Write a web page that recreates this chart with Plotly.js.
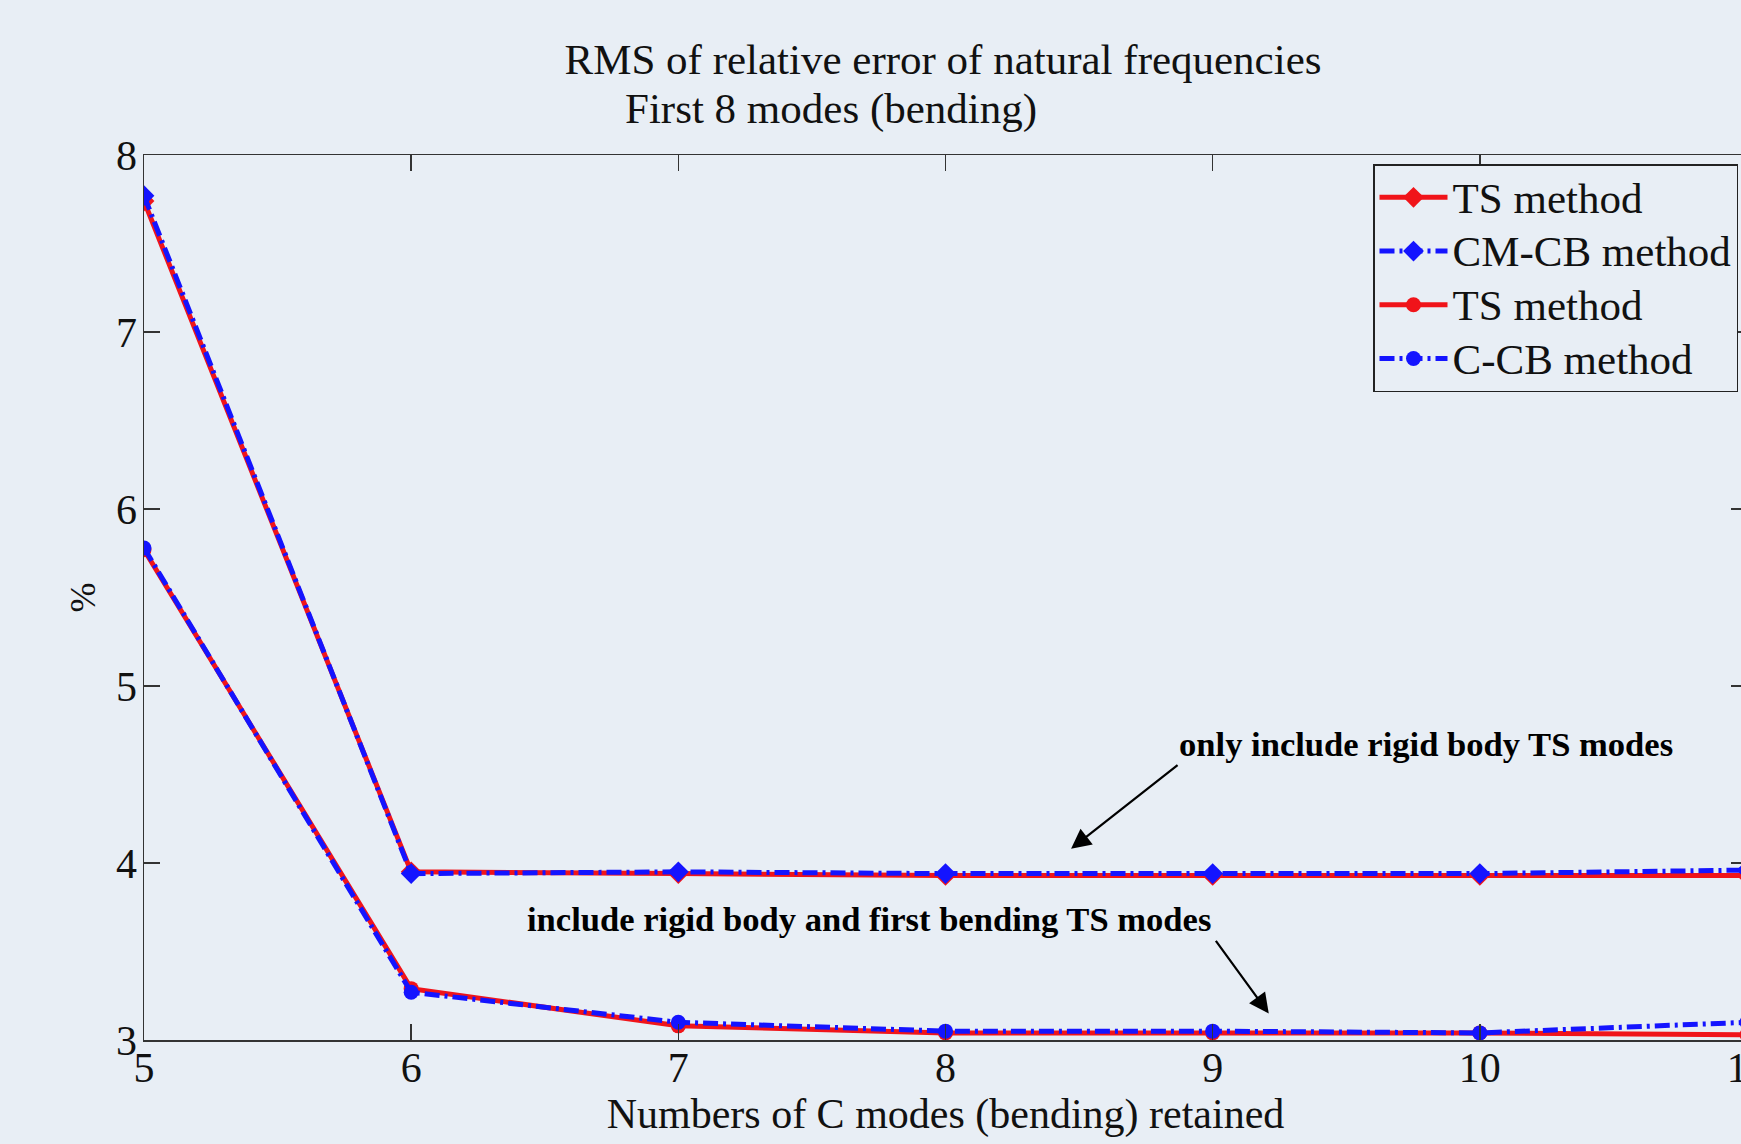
<!DOCTYPE html>
<html>
<head>
<meta charset="utf-8">
<script src="https://cdn.plot.ly/plotly-3.0.1.min.js"></script>
<style>
html, body { margin: 0; padding: 0; overflow: hidden; background: #e8eef5; }
#chart { width: 1747px; height: 1144px; }
</style>
</head>
<body>
<div id="chart"></div>
<script>
// Data
const modesRetained = [5, 6, 7, 8, 9, 10, 11];
const tsRigidOnly   = [7.74, 3.95, 3.94, 3.93, 3.93, 3.93, 3.93];
const cmcbRigidOnly = [7.77, 3.94, 3.95, 3.94, 3.94, 3.94, 3.96];
const tsRigidBend   = [5.77, 3.29, 3.08, 3.04, 3.04, 3.04, 3.03];
const ccbRigidBend  = [5.78, 3.27, 3.10, 3.05, 3.05, 3.04, 3.10];
const seriesNames = ['TS method', 'CM-CB method', 'TS method', 'C-CB method'];
const xTicks = [5, 6, 7, 8, 9, 10, 11];
const yTicks = [3, 4, 5, 6, 7, 8];

const FONT = 'Liberation Serif, "Times New Roman", serif';
const RED = '#f0141a';
const BLUE = '#1414ff';
const BG = '#e8eef5';
const blueDash = '15px,5px,3px,5px';

const legendLabel = s => '<span style="font-size:43px">' + s + '</span>';

const traces = [
  {x: modesRetained, y: tsRigidOnly, name: legendLabel(seriesNames[0]), mode: 'lines+markers',
   line: {color: RED, width: 5}, marker: {symbol: 'diamond', size: 16, color: RED}},
  {x: modesRetained, y: cmcbRigidOnly, name: legendLabel(seriesNames[1]), mode: 'lines+markers',
   line: {color: BLUE, width: 5, dash: blueDash}, marker: {symbol: 'diamond', size: 16, color: BLUE}},
  {x: modesRetained, y: tsRigidBend, name: legendLabel(seriesNames[2]), mode: 'lines+markers',
   line: {color: RED, width: 5}, marker: {symbol: 'circle', size: 15, color: RED}},
  {x: modesRetained, y: ccbRigidBend, name: legendLabel(seriesNames[3]), mode: 'lines+markers',
   line: {color: BLUE, width: 5, dash: blueDash}, marker: {symbol: 'circle', size: 15, color: BLUE}}
];

const axisCommon = {
  showgrid: false, zeroline: false,
  showline: true, linecolor: '#333', linewidth: 1.5, mirror: 'ticks',
  ticks: 'inside', ticklen: 16, tickwidth: 1.5, tickcolor: '#333',
  tickfont: {family: FONT, size: 42, color: '#111'}
};

const layout = {
  width: 1747, height: 1144,
  paper_bgcolor: BG, plot_bgcolor: BG,
  margin: {l: 144, r: 0, t: 155, b: 104},
  font: {family: FONT, color: '#111', size: 42},
  title: {text: 'RMS of relative error of natural frequencies',
          x: 943 / 1747, xanchor: 'center', y: 1 - 59 / 1144, yanchor: 'middle',
          font: {family: FONT, size: 43, color: '#111'}},
  xaxis: Object.assign({}, axisCommon, {
    range: [5, 11], tickvals: xTicks, ticktext: xTicks.map(String),
    ticklabelstandoff: -10, ticklabeloverflow: 'allow',
    title: {text: 'Numbers of C modes (bending) retained', standoff: 4,
            font: {family: FONT, size: 42, color: '#111'}}
  }),
  yaxis: Object.assign({}, axisCommon, {
    range: [3, 8], tickvals: yTicks, ticktext: yTicks.map(String),
    ticklabelstandoff: -3,
    title: {text: '%', standoff: 9, font: {family: FONT, size: 36, color: '#111'}}
  }),
  showlegend: true,
  legend: {
    x: (1738 - 144) / 1603, xanchor: 'right', y: (1040 - 164) / 885, yanchor: 'top',
    bgcolor: BG, bordercolor: '#222', borderwidth: 1.5,
    font: {family: FONT, size: 39, color: '#111'},
    itemwidth: 68, tracegroupgap: 0
  },
  annotations: [
    {xref: 'paper', yref: 'paper', x: (623 - 144) / 1603, y: (1040 - 109) / 885,
     xanchor: 'left', yanchor: 'middle', showarrow: false,
     text: 'First 8 modes (bending)', font: {family: FONT, size: 43, color: '#111'}},
    {xref: 'x', yref: 'y', x: 8.866, y: 4.672, xanchor: 'left', yanchor: 'middle',
     showarrow: false, text: '<b>only include rigid body TS modes</b>',
     font: {family: FONT, size: 34.6, color: '#000'}},
    {xref: 'x', yref: 'y', x: 6.426, y: 3.684, xanchor: 'left', yanchor: 'middle',
     showarrow: false, text: '<b>include rigid body and first bending TS modes</b>',
     font: {family: FONT, size: 34.6, color: '#000'}},
    {xref: 'x', yref: 'y', x: 8.47, y: 4.08, ax: 108, ay: -85, text: '',
     showarrow: true, arrowhead: 2, arrowsize: 1.8, arrowwidth: 2.2, arrowcolor: '#000'},
    {xref: 'x', yref: 'y', x: 9.21, y: 3.15, ax: -54, ay: -74, text: '',
     showarrow: true, arrowhead: 2, arrowsize: 1.8, arrowwidth: 2.2, arrowcolor: '#000'}
  ]
};

Plotly.newPlot('chart', traces, layout, {displayModeBar: false, staticPlot: true});
</script>
</body>
</html>
